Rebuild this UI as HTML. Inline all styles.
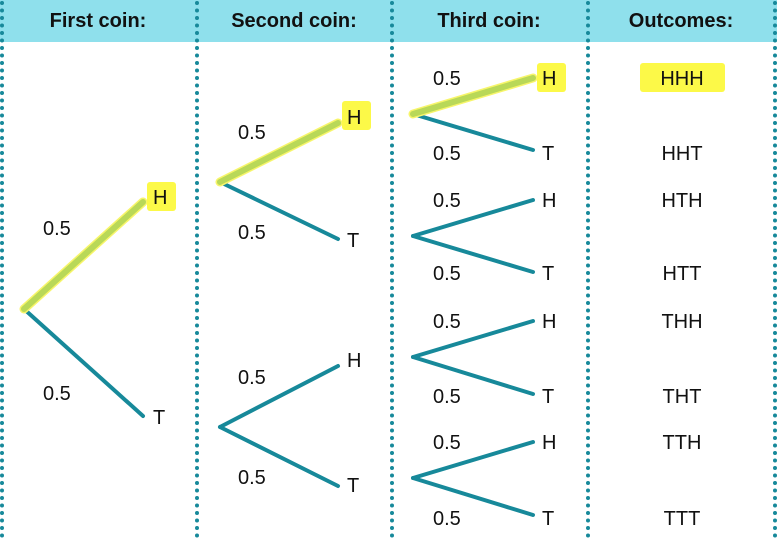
<!DOCTYPE html>
<html><head><style>
body{margin:0;width:777px;height:540px;background:#fff;overflow:hidden;font-family:"Liberation Sans",sans-serif}
</style></head><body>
<svg width="777" height="540" xmlns="http://www.w3.org/2000/svg" font-family="Liberation Sans, sans-serif">
<rect x="0" y="0" width="777" height="42" fill="#8fe0ec"/>
<g stroke="#17899a" stroke-width="4" stroke-linecap="round" stroke-dasharray="0 7.5">
<line x1="2" y1="3" x2="2" y2="540"/>
<line x1="197" y1="3" x2="197" y2="540"/>
<line x1="392" y1="3" x2="392" y2="540"/>
<line x1="588" y1="3" x2="588" y2="540"/>
<line x1="775" y1="3" x2="775" y2="540"/>
</g>
<g font-weight="bold" font-size="20" text-anchor="middle" fill="#111">
<text x="98" y="27">First coin:</text>
<text x="294" y="27">Second coin:</text>
<text x="489" y="27">Third coin:</text>
<text x="681" y="27">Outcomes:</text>
</g>
<g stroke="#17899a" stroke-width="4" stroke-linecap="round">
<line x1="24" y1="309" x2="143" y2="416"/>
<line x1="220" y1="182" x2="338" y2="239"/>
<line x1="220" y1="427" x2="338" y2="366"/>
<line x1="220" y1="427" x2="338" y2="486"/>
<line x1="413" y1="114" x2="533" y2="150"/>
<line x1="413" y1="236" x2="533" y2="200"/>
<line x1="413" y1="236" x2="533" y2="272"/>
<line x1="413" y1="357" x2="533" y2="321"/>
<line x1="413" y1="357" x2="533" y2="394"/>
<line x1="413" y1="478" x2="533" y2="442"/>
<line x1="413" y1="478" x2="533" y2="515"/>
</g>
<g stroke="#f7f56a" stroke-width="9" stroke-linecap="round">
<line x1="24" y1="309" x2="143" y2="202"/>
<line x1="220" y1="182" x2="338" y2="123"/>
<line x1="413" y1="114" x2="533" y2="78"/>
</g>
<g stroke="#b9d858" stroke-width="6" stroke-linecap="round">
<line x1="24" y1="309" x2="143" y2="202"/>
<line x1="220" y1="182" x2="338" y2="123"/>
<line x1="413" y1="114" x2="533" y2="78"/>
</g>
<g fill="#fcf948">
<rect x="147" y="182" width="29" height="29" rx="3"/>
<rect x="342" y="101" width="29" height="29" rx="3"/>
<rect x="537" y="63" width="29" height="29" rx="3"/>
<rect x="640" y="63" width="85" height="29" rx="3"/>
</g>
<g font-size="20" fill="#111">
<text x="43" y="235">0.5</text><text x="43" y="400">0.5</text>
<text x="238" y="139">0.5</text><text x="238" y="239">0.5</text>
<text x="238" y="384">0.5</text><text x="238" y="484">0.5</text>
<text x="433" y="85">0.5</text><text x="433" y="160">0.5</text>
<text x="433" y="207">0.5</text><text x="433" y="280">0.5</text>
<text x="433" y="328">0.5</text><text x="433" y="403">0.5</text>
<text x="433" y="449">0.5</text><text x="433" y="525">0.5</text>
<text x="153" y="204">H</text><text x="153" y="424">T</text>
<text x="347" y="124">H</text><text x="347" y="247">T</text>
<text x="347" y="367">H</text><text x="347" y="492">T</text>
<text x="542" y="85">H</text><text x="542" y="160">T</text>
<text x="542" y="207">H</text><text x="542" y="280">T</text>
<text x="542" y="328">H</text><text x="542" y="403">T</text>
<text x="542" y="449">H</text><text x="542" y="525">T</text>
</g>
<g font-size="20" fill="#111" text-anchor="middle">
<text x="682" y="85">HHH</text><text x="682" y="160">HHT</text>
<text x="682" y="207">HTH</text><text x="682" y="280">HTT</text>
<text x="682" y="328">THH</text><text x="682" y="403">THT</text>
<text x="682" y="449">TTH</text><text x="682" y="525">TTT</text>
</g>
</svg>
</body></html>
